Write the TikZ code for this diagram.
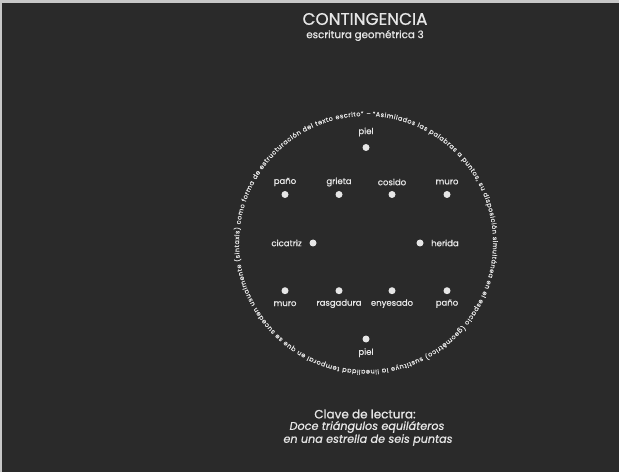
\documentclass[tikz,border=0pt]{standalone}
\usepackage{fontspec}
\setmainfont{Poppins}
\newfontfamily\medfont{Poppins}[FakeBold=0.8]
\usetikzlibrary{decorations.text}
\definecolor{bg}{HTML}{2A2A2A}
\definecolor{fg}{HTML}{E6E6E6}
\definecolor{edge}{HTML}{C8C8C8}
\begin{document}
\begin{tikzpicture}[x=1pt,y=1pt,
  dot/.style={circle, fill=fg, inner sep=0pt, minimum size=7pt},
  wlabel/.style={text=fg, font=\medfont\fontsize{8.5}{10}\selectfont, inner sep=0pt},
  bottomtext/.style={text=fg, inner sep=0pt}]
\fill[bg] (0,0) rectangle (619,472);
\useasboundingbox (0,0) rectangle (619,472);
\fill[edge] (0,469) rectangle (619,472);
\fill[edge] (0,0) rectangle (2,472);
% title
\node[text=fg, font=\medfont\fontsize{16.8}{18}\selectfont, inner sep=0pt] (title) at (365,453) {CONTINGENCIA};
\node[text=fg, font=\medfont\fontsize{10.3}{12}\selectfont, inner sep=0pt] (sub) at (365,436.5) {escritura geométrica 3};
% circular text
\coordinate (c) at (366,229);
\path[decorate, decoration={text along path, text align={fit to path},
  text={|\medfont\fontsize{6.4}{8}\selectfont\color{fg}|“Asimilados las palabras a puntos, su disposición simultánea en el espacio (geométrico) sustituye la linealidad temporal en que se suceden usualmente (sintaxis) como forma de estructuración del texto escrito” – }}]
  (c) ++(87:127) arc[start angle=87, end angle=-272, radius=127];
% dots
\node[dot] (d1) at (366,324.5) {};
\node[wlabel] (l1) at (366,340) {piel};
\node[dot] (d2) at (285,277.5) {};
\node[wlabel] (l2) at (285,290) {paño};
\node[dot] (d3) at (339,277.5) {};
\node[wlabel] (l3) at (339,290) {grieta};
\node[dot] (d4) at (392,277.5) {};
\node[wlabel] (l4) at (392,290) {cosido};
\node[dot] (d5) at (447,277.5) {};
\node[wlabel] (l5) at (447,290) {muro};
\node[dot] (d6) at (313,229) {};
\node[wlabel, anchor=east] (l6) at (302,229) {cicatriz};
\node[dot] (d7) at (420,229) {};
\node[wlabel, anchor=west] (l7) at (431,229) {herida};
\node[dot] (d8) at (285,181.3) {};
\node[wlabel] (l8) at (285,168.3) {muro};
\node[dot] (d9) at (339,181.3) {};
\node[wlabel] (l9) at (339,168.3) {rasgadura};
\node[dot] (d10) at (392,181.3) {};
\node[wlabel] (l10) at (392,168.3) {enyesado};
\node[dot] (d11) at (447,181.3) {};
\node[wlabel] (l11) at (447,168.3) {paño};
\node[dot] (d12) at (366,133) {};
\node[wlabel] (l12) at (366,119.3) {piel};
% key
\node[bottomtext, font=\medfont\fontsize{12}{13}\selectfont] (clave) at (365,58) {Clave de lectura:};
\node[bottomtext, font=\medfont\itshape\fontsize{11.2}{13}\selectfont] (doce) at (367,45) {Doce triángulos equiláteros};
\node[bottomtext, font=\medfont\itshape\fontsize{11.2}{13}\selectfont] (estrella) at (368,32) {en una estrella de seis puntas};
\end{tikzpicture}
\end{document}
